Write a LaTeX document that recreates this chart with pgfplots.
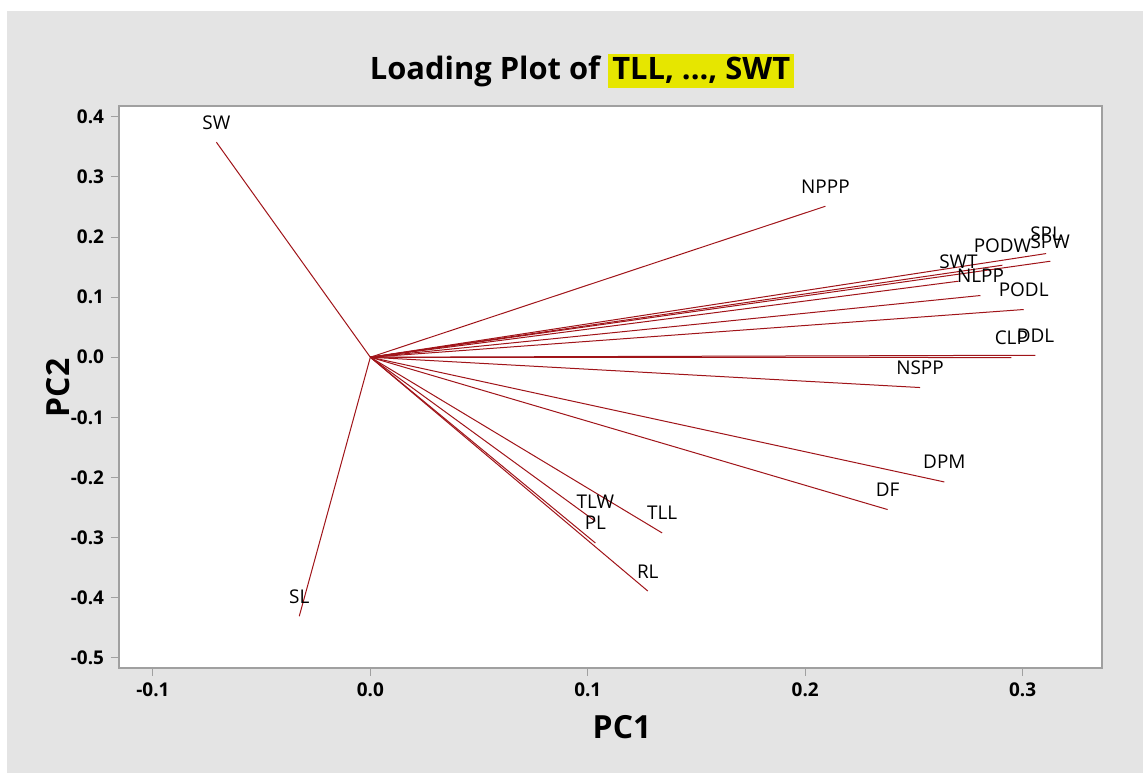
\documentclass[border=0pt]{standalone}
\usepackage{fontspec}
\setmainfont{Open Sans}
\usepackage{pgfplots}
\usepackage{pgfplotstable}
\pgfplotsset{compat=1.18}
\definecolor{bggrey}{RGB}{228,228,228}
\definecolor{vecred}{RGB}{160,20,25}
\definecolor{hl}{RGB}{230,230,0}
\definecolor{axgrey}{RGB}{160,160,160}

\pgfplotstableread{
x y label
0.1342 -0.2923 TLL
0.1035 -0.2729 TLW
0.1035 -0.3090 PL
0.1276 -0.3889 RL
-0.0327 -0.4309 SL
-0.0708 0.3577 SW
0.2093 0.2512 NPPP
0.3108 0.1725 SPL
0.3127 0.1597 SPW
0.2907 0.1531 PODW
0.2705 0.1265 SWT
0.2806 0.1027 NLPP
0.3005 0.0794 PODL
0.2948 -0.0005 CLP
0.3059 0.0033 DDL
0.2528 -0.0504 NSPP
0.2640 -0.2075 DPM
0.2379 -0.2534 DF
}\loadings

\begin{document}
\begin{tikzpicture}
\useasboundingbox (-59.5bp,-52.5bp) rectangle (512bp,334bp);
\fill[white] (-59.5bp,-52.5bp) rectangle (512bp,334bp);
\fill[bggrey] (-56bp,-52.5bp) rectangle (512bp,328.5bp);
\begin{axis}[
  scale only axis, width=491.5bp, height=281bp,
  at={(0,0)}, anchor=south west,
  xmin=-0.1156, xmax=0.3365, ymin=-0.517, ymax=0.418,
  axis background/.style={fill=white},
  axis line style={axgrey, line width=0.6bp},
  xtick={-0.1,0,0.1,0.2,0.3}, xticklabels={-0.1,0.0,0.1,0.2,0.3},
  ytick={-0.5,-0.4,-0.3,-0.2,-0.1,0,0.1,0.2,0.3,0.4},
  yticklabels={-0.5,-0.4,-0.3,-0.2,-0.1,0.0,0.1,0.2,0.3,0.4},
  xtick pos=bottom, ytick pos=left,
  tick align=outside, major tick length=4bp,
  tick style={axgrey, line width=0.5bp},
  tick label style={font=\bfseries\fontsize{9.5}{11}\selectfont, black},
  clip=false,
]
\addplot[vecred, line width=0.5bp, quiver={u=\thisrow{x}, v=\thisrow{y}}, -]
  table[x expr=0, y expr=0] {\loadings};
\addplot[draw=none, mark=none, nodes near coords, point meta=explicit symbolic,
  nodes near coords style={anchor=base, yshift=6.5bp, inner sep=0pt,
    font=\fontsize{9.5}{11}\selectfont, black}]
  table[x=x, y=y, meta=label] {\loadings};
\end{axis}
\setlength\fboxsep{2bp}
\node[anchor=base, font=\bfseries\fontsize{15.5}{18}\selectfont] at (231.5bp,294bp)
  {Loading Plot of \colorbox{hl}{TLL, ..., SWT}};
\node[font=\bfseries\fontsize{16}{19}\selectfont] at (251.5bp,-29.5bp) {PC1};
\node[rotate=90, font=\bfseries\fontsize{16}{19}\selectfont] at (-30.5bp,140bp) {PC2};
\end{tikzpicture}
\end{document}
